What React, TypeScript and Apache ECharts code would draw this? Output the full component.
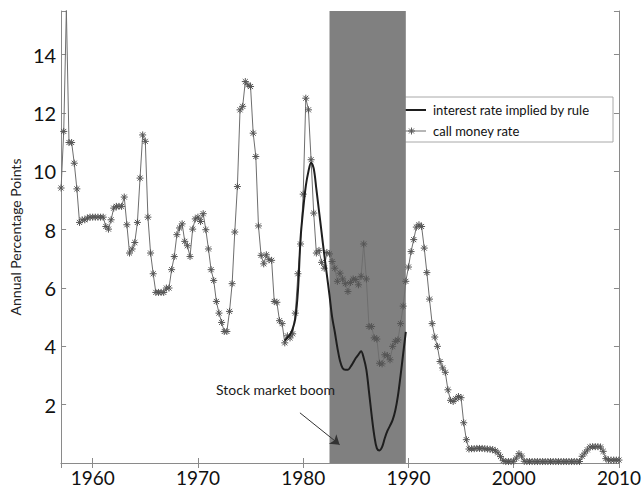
import React, { useEffect, useRef } from "react";
import * as echarts from "echarts";

// Quarterly call money rate, starting 1957 Q1
const callStartYear = 1957;
const quarterStep = 0.25;
const callMoneyRate = [
  9.43, 11.37, 15.54, 10.99, 10.99, 10.28, 9.4, 8.25, 8.34, 8.34,
  8.4, 8.43, 8.43, 8.43, 8.43, 8.43, 8.43, 8.11, 8.02, 8.34,
  8.74, 8.8, 8.8, 8.8, 9.12, 8.17, 7.2, 7.34, 7.56, 8.25,
  9.77, 11.25, 11.03, 8.43, 7.2, 6.49, 5.85, 5.85, 5.85, 5.85,
  6.0, 6.0, 6.63, 7.08, 7.83, 8.06, 8.2, 7.6, 7.45, 7.08,
  8.02, 8.37, 8.43, 8.28, 8.55, 8.0, 7.34, 6.63, 6.26, 5.54,
  5.14, 4.82, 4.51, 4.51, 5.2, 6.15, 7.92, 9.48, 12.11, 12.23,
  13.08, 12.97, 12.91, 11.31, 10.51, 8.13, 7.12, 6.83, 7.14, 6.97,
  6.95, 5.54, 5.51, 4.88, 4.78, 4.12, 4.36, 4.29, 4.43, 5.14,
  6.49, 7.51, 9.22, 12.51, 12.11, 10.4, 8.57, 7.2, 7.29, 6.88,
  6.68, 7.22, 7.17, 6.91, 6.68, 6.23, 6.51, 6.31, 6.15, 5.88,
  6.19, 6.31, 6.29, 6.11, 6.4, 7.51, 6.31, 4.68, 4.68, 4.29,
  4.25, 3.42, 3.4, 3.71, 3.68, 3.54, 4.0, 4.17, 4.22, 4.78,
  5.38, 6.23, 6.72, 7.25, 7.66, 8.09, 8.17, 8.11, 7.37, 6.53,
  5.62, 4.78, 4.32, 4.0, 3.48, 3.26, 3.11, 2.51, 2.15, 2.11,
  2.2, 2.28, 2.24, 1.38, 0.8, 0.48, 0.49, 0.49, 0.5, 0.5,
  0.5, 0.49, 0.48, 0.47, 0.46, 0.42, 0.35, 0.22, 0.08, 0.05,
  0.05, 0.05, 0.06, 0.17, 0.32, 0.24, 0.06, 0.05, 0.05, 0.05,
  0.05, 0.05, 0.05, 0.05, 0.05, 0.05, 0.05, 0.05, 0.05, 0.05,
  0.05, 0.05, 0.05, 0.05, 0.05, 0.05, 0.05, 0.05, 0.23, 0.34,
  0.45, 0.55, 0.56, 0.56, 0.56, 0.55, 0.4, 0.15, 0.1, 0.1,
  0.1, 0.1, 0.1,
];

// Quarterly interest rate implied by rule, starting 1978 Q2
const ruleStartYear = 1978.25;
const ruleRate = [
  4.2, 4.3, 4.4, 4.6, 4.95, 5.9, 7.7, 8.7, 9.5, 10.0,
  10.3, 10.1, 9.4, 8.65, 7.9, 7.15, 6.45, 5.75, 5.0, 4.5,
  3.95, 3.5, 3.25, 3.2, 3.2, 3.3, 3.45, 3.6, 3.72, 3.83,
  3.6, 3.2, 2.45, 1.65, 0.95, 0.5, 0.43, 0.55, 0.85, 1.1,
  1.28, 1.48, 1.8, 2.3, 3.0, 3.75, 4.5,
];

const boomPeriod = [1982.5, 1989.75];
const arrowFrom = [1979.69, 1.72];
const arrowTo = [1983.46, 0.63];
const xTickLabels = [1960, 1970, 1980, 1990, 2000, 2010];
const yTickLabels = [2, 4, 6, 8, 10, 12, 14];
const xRange = [1957, 2010];
const yRange = [0, 15.5];

const seriesNames = ["interest rate implied by rule", "call money rate"];
const annotationText = "Stock market boom";
const yAxisTitle = "Annual Percentage Points";

const FONT = "Lato";
const ASTERISK =
  "path://M0,-5L0,5M-5,0L5,0M-3.6,-3.6L3.6,3.6M-3.6,3.6L3.6,-3.6";

export default function App() {
  const ref = useRef<HTMLDivElement>(null);

  useEffect(() => {
    if (!ref.current) return;
    const chart = echarts.init(ref.current, null, { renderer: "svg" });

    const callData = callMoneyRate.map((v, i) => [callStartYear + i * quarterStep, v]);
    const ruleData = ruleRate.map((v, i) => [ruleStartYear + i * quarterStep, v]);

    const axisLineStyle = { color: "#8a8a8a", width: 1 };

    const xBase = {
      type: "value",
      min: xRange[0],
      max: xRange[1],
      splitLine: { show: false },
      axisLine: { show: true, lineStyle: axisLineStyle },
      axisTick: { show: true, inside: true, length: 5, lineStyle: axisLineStyle },
    };
    const yBase = {
      type: "value",
      min: yRange[0],
      max: yRange[1],
      interval: 2,
      splitLine: { show: false },
      axisLine: { show: true, lineStyle: axisLineStyle },
      axisTick: { show: true, inside: true, length: 5, lineStyle: axisLineStyle },
    };

    const lx = 392;
    const ly = 97;
    const starCx = 411.5;
    const starCy = 131;
    const starR = 3.5;
    const starLines = [0, 45, 90, 135].map((deg) => {
      const r = (deg * Math.PI) / 180;
      return {
        type: "line",
        shape: {
          x1: starCx - starR * Math.cos(r),
          y1: starCy - starR * Math.sin(r),
          x2: starCx + starR * Math.cos(r),
          y2: starCy + starR * Math.sin(r),
        },
        style: { stroke: "#5a5a5a", lineWidth: 1 },
      };
    });

    chart.setOption({
      animation: false,
      backgroundColor: "#ffffff",
      grid: { left: 57, right: 24, top: 11, bottom: 27, containLabel: false },
      xAxis: [
        {
          ...xBase,
          position: "bottom",
          axisLabel: {
            show: true,
            margin: 5,
            fontFamily: FONT,
            fontSize: 19,
            lineHeight: 19,
            color: "#111",
            formatter: (v: number) => (xTickLabels.includes(v) ? String(v) : ""),
          },
        },
        {
          ...xBase,
          position: "top",
          axisLabel: { show: false },
        },
      ],
      yAxis: [
        {
          ...yBase,
          position: "left",
          name: yAxisTitle,
          nameLocation: "middle",
          nameRotate: 90,
          nameGap: 32,
          nameTextStyle: { fontFamily: FONT, fontSize: 14, color: "#222" },
          axisLabel: {
            show: true,
            margin: 5,
            fontFamily: FONT,
            fontSize: 20,
            color: "#111",
            formatter: (v: number) => (yTickLabels.includes(v) ? String(v) : ""),
          },
        },
        {
          ...yBase,
          position: "right",
          axisLabel: { show: false },
        },
      ],
      series: [
        {
          name: seriesNames[1],
          type: "line",
          data: callData,
          showSymbol: true,
          symbol: ASTERISK,
          symbolSize: 7,
          symbolKeepAspect: true,
          lineStyle: { color: "#6e6e6e", width: 1 },
          itemStyle: { color: "#555", borderColor: "#555", borderWidth: 1 },
          z: 3,
          markArea: {
            silent: true,
            itemStyle: { color: "#808080", opacity: 1 },
            data: [[{ xAxis: boomPeriod[0] }, { xAxis: boomPeriod[1] }]],
          },
        },
        {
          name: seriesNames[0],
          type: "line",
          data: ruleData,
          showSymbol: false,
          smooth: 0.35,
          lineStyle: { color: "#1e1e1e", width: 2 },
          itemStyle: { color: "#1e1e1e" },
          z: 4,
          markLine: {
            silent: true,
            symbol: ["none", "arrow"],
            symbolSize: 9,
            lineStyle: { color: "#333", width: 1, type: "solid" },
            label: { show: false },
            data: [[{ coord: arrowFrom }, { coord: arrowTo }]],
          },
        },
      ],
      graphic: [
        {
          type: "text",
          left: 216,
          top: 382,
          z: 100,
          style: {
            text: annotationText,
            font: `14px ${FONT}`,
            fill: "#1a1a1a",
          },
        },
        {
          type: "group",
          z: 100,
          children: [
            {
              type: "rect",
              shape: { x: lx, y: ly, width: 221, height: 45 },
              style: { fill: "#ffffff", stroke: "#a8a8a8", lineWidth: 1 },
            },
            {
              type: "line",
              shape: { x1: 397, y1: 110, x2: 426, y2: 110 },
              style: { stroke: "#1e1e1e", lineWidth: 2 },
            },
            {
              type: "text",
              x: 433,
              y: 110,
              style: {
                text: seriesNames[0],
                font: `13px ${FONT}`,
                fill: "#111",
                verticalAlign: "middle",
              },
            },
            {
              type: "line",
              shape: { x1: 397, y1: 131, x2: 426, y2: 131 },
              style: { stroke: "#6e6e6e", lineWidth: 1 },
            },
            ...starLines,
            {
              type: "text",
              x: 433,
              y: 131,
              style: {
                text: seriesNames[1],
                font: `13px ${FONT}`,
                fill: "#111",
                verticalAlign: "middle",
              },
            },
          ],
        },
      ],
    });

    return () => chart.dispose();
  }, []);

  return (
    <div
      ref={ref}
      style={{ position: "absolute", left: 0, top: 0, width: 644, height: 490 }}
    />
  );
}
